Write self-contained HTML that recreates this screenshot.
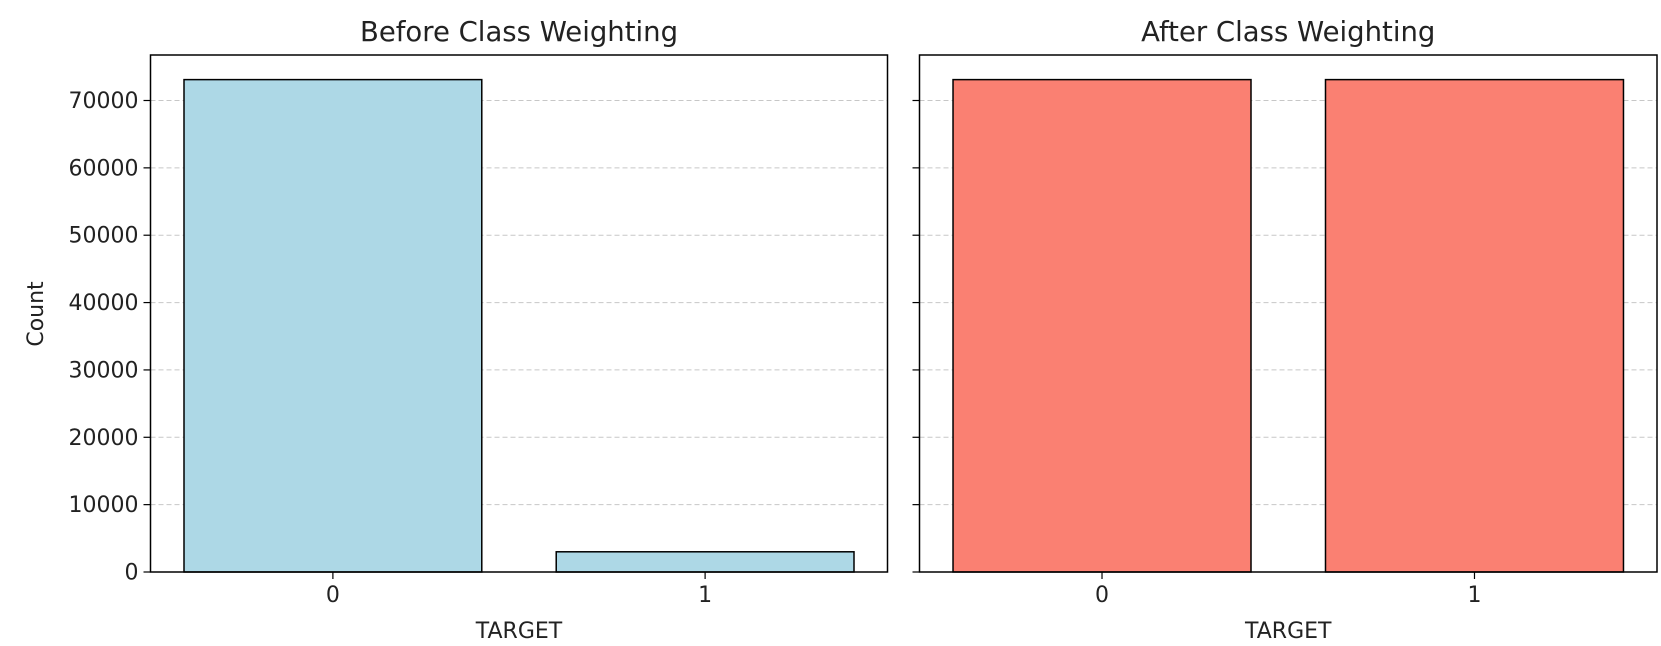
<!DOCTYPE html>
<html><head><meta charset="utf-8"><style>body{margin:0;background:#fff}svg{display:block}text{font-family:"DejaVu Sans","Liberation Sans",sans-serif;fill:#222}</style></head>
<body>
<svg id="fig" width="1661" height="646" viewBox="0 0 1661 646" xmlns="http://www.w3.org/2000/svg"></svg>
<script>
const categories = ["0","1"];
const beforeCounts = [73100, 3000];
const afterCounts = [73100, 73100];
const yTicks = [0,10000,20000,30000,40000,50000,60000,70000];
const titles = ["Before Class Weighting","After Class Weighting"];

const NS="http://www.w3.org/2000/svg";
const svg=document.getElementById('fig');
function el(t,a,p){const e=document.createElementNS(NS,t);for(const k in a)e.setAttribute(k,a[k]);(p||svg).appendChild(e);return e;}
const plotTop=55,plotBottom=572;
const yMax=Math.max(...beforeCounts,...afterCounts)*1.05;
const y=v=>plotBottom-(v/yMax)*(plotBottom-plotTop);
const panels=[{x0:150.5,x1:887.5,data:beforeCounts,color:"#add8e6",title:titles[0],name:"before"},
              {x0:919.5,x1:1657,data:afterCounts,color:"#fa8072",title:titles[1],name:"after"}];
panels.forEach((p,pi)=>{
  const g=el('g',{});
  
  
  const xlo=-0.49,xhi=categories.length-1+0.49;
  const x=v=>p.x0+(v-xlo)/(xhi-xlo)*(p.x1-p.x0);
  yTicks.forEach(t=>{
    const gl=el('line',{x1:p.x0,x2:p.x1,y1:y(t),y2:y(t),stroke:'#b0b0b0','stroke-width':1,'stroke-dasharray':'5,3',opacity:0.7},g);
    
    
    el('line',{x1:p.x0-7,x2:p.x0,y1:y(t),y2:y(t),stroke:'#000','stroke-width':1.2},g);
    if(pi===0){
      const tl=el('text',{x:p.x0-12,y:y(t)+7.5,'text-anchor':'end','font-size':22},g);
      tl.textContent=t;
      
      
    }
  });
  p.data.forEach((v,i)=>{
    const b=el('rect',{x:x(i-0.4),y:y(v),width:x(i+0.4)-x(i-0.4),height:plotBottom-y(v),fill:p.color,stroke:'#000','stroke-width':1.5},g);
    
    
    el('line',{x1:x(i),x2:x(i),y1:plotBottom,y2:plotBottom+7,stroke:'#000','stroke-width':1.2},g);
    const xl=el('text',{x:x(i),y:plotBottom+30,'text-anchor':'middle','font-size':22},g);
    xl.textContent=categories[i];
    
    
  });
  const fr=el('rect',{x:p.x0,y:plotTop,width:p.x1-p.x0,height:plotBottom-plotTop,fill:'none',stroke:'#000','stroke-width':1.5},g);
  
  
  const tt=el('text',{x:(p.x0+p.x1)/2,y:41,'text-anchor':'middle','font-size':27.5},g);
  tt.textContent=p.title;
  
  
  const xt=el('text',{x:(p.x0+p.x1)/2,y:638,'text-anchor':'middle','font-size':22},g);
  xt.textContent="TARGET";
  
  
});
const yl=el('text',{x:0,y:0,'text-anchor':'middle','font-size':22,transform:'translate(43,314) rotate(-90)'});
yl.textContent="Count";


</script>
</body></html>
